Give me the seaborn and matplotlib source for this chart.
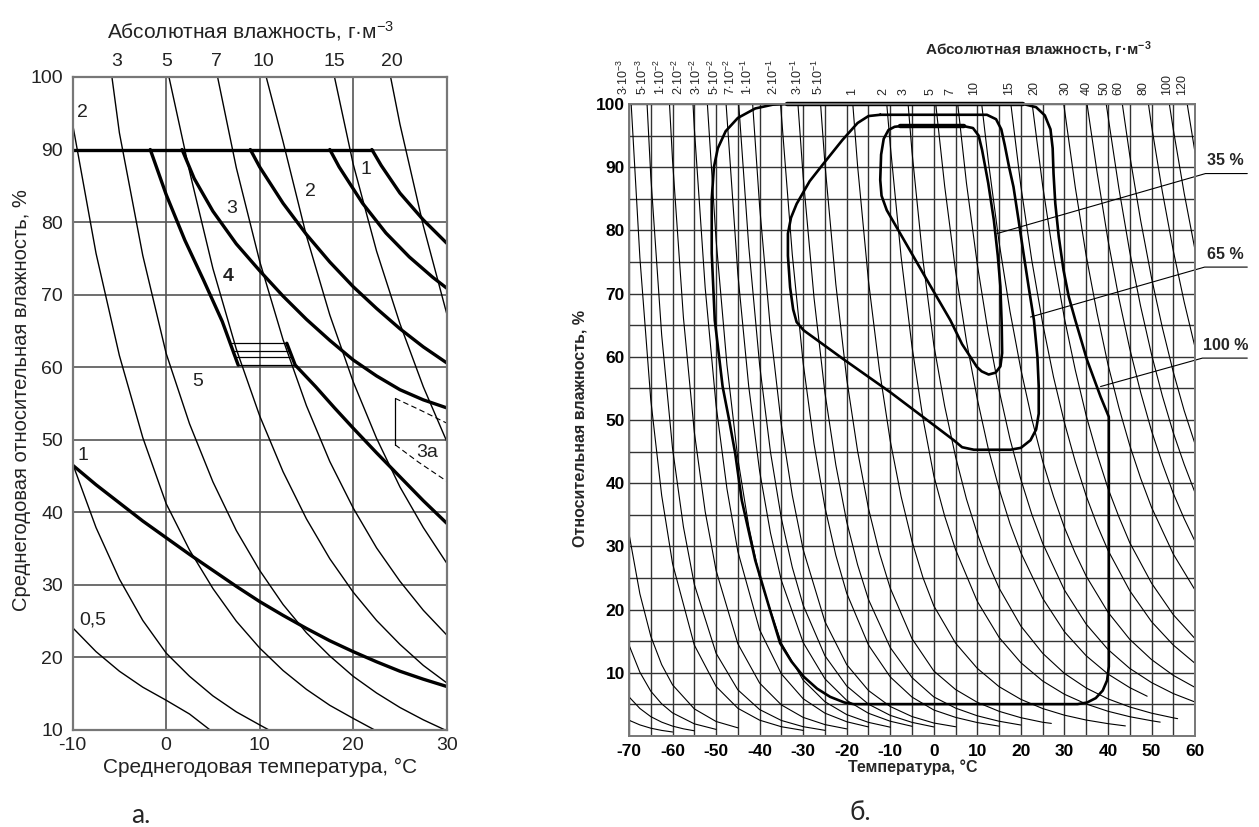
import matplotlib
matplotlib.use("Agg")
import matplotlib.pyplot as plt
import matplotlib.transforms as mtransforms
import numpy as np
import pandas as pd
import seaborn as sns

# ---------------- LEFT PANEL (а.) : values ----------------
L_XTICKS = [-10, 0, 10, 20, 30]
L_YTICKS = [10, 20, 30, 40, 50, 60, 70, 80, 90, 100]
L_TOP_POS = [-5.3, 0.1, 5.4, 10.4, 18.0, 24.1]
L_TOP_LAB = ["3", "5", "7", "10", "15", "20"]

# thin isolines of absolute humidity (T, RH)
la_05 = [(-10, 24.1), (-7.5, 20.8), (-5, 18.1), (-2.5, 15.9), (0, 14.1), (2.5, 12.2), (4.7, 10.0)]
la_1 = [(-10, 46.7), (-7.5, 37.9), (-5, 30.8), (-2.5, 25.1), (0, 20.6), (2.5, 17.4), (5, 14.7),
        (7.5, 12.5), (10, 10.7), (11, 10.0)]
la_2 = [(-10, 93.5), (-7.5, 75.7), (-5, 61.6), (-2.5, 50.3), (0, 41.2), (2.5, 34.8), (5, 29.5),
        (7.5, 25.0), (10, 21.3), (12.5, 18.2), (15, 15.6), (17.5, 13.4), (20, 11.6), (22.3, 10.0)]
la_3 = [(-5.8, 100), (-5, 92.3), (-2.5, 75.4), (0, 61.9), (2.5, 52.2), (5, 44.2), (7.5, 37.5),
        (10, 32.0), (12.5, 27.3), (15, 23.4), (17.5, 20.2), (20, 17.4), (22.5, 15.1), (25, 13.1),
        (27.5, 11.4), (30, 9.9)]
la_5 = [(0.3, 100), (2.5, 87.0), (5, 73.6), (7.5, 62.5), (10, 53.3), (12.5, 45.6), (15, 39.1),
        (17.5, 33.6), (20, 29.0), (22.5, 25.1), (25, 21.8), (27.5, 18.9), (30, 16.5)]
la_7 = [(5.5, 100), (7.5, 87.5), (10, 74.6), (12.5, 63.8), (15, 54.7), (17.5, 47.0), (20, 40.6),
        (22.5, 35.1), (25, 30.5), (27.5, 26.5), (30, 23.1)]
la_10 = [(10.7, 100), (12.5, 91.1), (15, 78.1), (17.5, 67.2), (20, 58.0), (22.5, 50.2), (25, 43.5),
         (27.5, 37.9), (30, 33.0)]
la_15 = [(18.0, 100), (20, 88.0), (22.5, 76.0), (25, 66.0), (27.5, 57.3), (30, 49.8)]
la_20 = [(24.0, 100), (25, 93.5), (27.5, 79.5), (30, 67.4)]

# thick zone boundaries
lk_top = [(-10, 90), (22, 90)]
lk_4 = [(-1.7, 90), (0, 83.8), (2, 77.5), (4, 72.0), (6, 66.3), (7.7, 60.3)]
lk_4b = [(12.9, 63.3), (13.8, 60.3), (16, 57.3), (18, 54.4), (20, 51.6), (22.5, 48.2), (25, 44.9),
         (27.5, 41.6), (30, 38.5)]
lk_3 = [(1.7, 90), (3, 86.0), (5, 81.5), (7.5, 77.0), (10, 73.3), (12.5, 69.8), (15, 66.6),
        (17.5, 63.7), (20, 61.0), (22.5, 58.8), (25, 56.9), (27.5, 55.5), (30, 54.4)]
lk_2 = [(9.0, 90), (10, 87.6), (12.5, 82.6), (15, 78.3), (17.5, 74.5), (20, 71.1), (22.5, 68.1),
        (25, 65.3), (27.5, 62.8), (30, 60.6)]
lk_1 = [(17.5, 90), (18.5, 87.6), (21, 82.6), (23.5, 78.5), (26, 75.2), (28.5, 72.4), (30, 70.9)]
lk_0 = [(22, 90), (23, 87.8), (25, 84.0), (27.5, 80.3), (30, 77.1)]
lk_low = [(-10, 46.5), (-7.5, 43.8), (-5, 41.3), (-2.5, 38.8), (0, 36.5), (2.5, 34.2), (5, 32.0),
          (7.5, 29.8), (10, 27.7), (12.5, 25.8), (15, 24.0), (17.5, 22.3), (20, 20.8), (22.5, 19.4),
          (25, 18.1), (27.5, 17.0), (30, 16.0)]
# hatched box and zone 3а
lb_1 = [(7.0, 63.3), (12.9, 63.3)]
lb_2 = [(7.3, 62.2), (13.2, 62.2)]
lb_3 = [(7.5, 61.4), (13.5, 61.4)]
lb_4 = [(7.7, 60.3), (13.8, 60.3)]
l3a_v = [(24.5, 55.7), (24.5, 49.3)]
l3a_d1 = [(24.5, 55.7), (27, 54.2), (30, 52.3)]
l3a_d2 = [(24.5, 49.3), (27, 46.9), (30, 44.3)]
# in-plot labels (text, T, RH, bold)
L_NOTES = [("2", -8.9, 95.1, False), ("1", 21.4, 87.2, False), ("2", 15.4, 84.2, False),
           ("3", 7.0, 81.9, False), ("4", 6.6, 72.5, True), ("5", 3.4, 58.0, False),
           ("1", -8.9, 47.9, False), ("0,5", -7.9, 25.2, False), ("3а", 27.9, 48.2, False)]

# ---------------- RIGHT PANEL (б.) ----------------
R_XTICKS = [-70, -60, -50, -40, -30, -20, -10, 0, 10, 20, 30, 40, 50, 60]
R_XMINOR = [-65, -55, -45, -35, -25, -15, -5, 5, 15, 25, 35, 45, 55]
R_YTICKS = [10, 20, 30, 40, 50, 60, 70, 80, 90, 100]
R_YMINOR = [5, 15, 25, 35, 45, 55, 65, 75, 85, 95]
R_TOP_POS = [-71.3, -66.9, -62.9, -58.7, -54.5, -50.5, -46.7, -42.7, -36.8, -31.4, -26.5, -18.8,
             -11.5, -6.9, -0.8, 3.8, 9.2, 17.2, 23.0, 30.2, 35.2, 39.3, 42.3, 48.2, 53.6, 57.0]
R_TOP_LAB = [r"$3{\cdot}10^{-3}$", r"$5{\cdot}10^{-3}$", r"$1{\cdot}10^{-2}$", r"$2{\cdot}10^{-2}$",
             r"$3{\cdot}10^{-2}$", r"$5{\cdot}10^{-2}$", r"$7{\cdot}10^{-2}$", r"$1{\cdot}10^{-1}$",
             r"$2{\cdot}10^{-1}$", r"$3{\cdot}10^{-1}$", r"$5{\cdot}10^{-1}$", "1", "2", "3", "5", "7",
             "10", "15", "20", "30", "40", "50", "60", "80", "100", "120"]

ri_x1 = [(-70, 32.0), (-67.5, 22.5), (-65, 15.8), (-62.5, 11.3), (-60, 8.1), (-55, 4.3), (-50, 2.3), (-45, 1.3)]
ri_x2 = [(-70, 14.4), (-67.5, 10.1), (-65, 7.1), (-62.5, 5.1), (-60, 3.66), (-55, 1.93), (-50, 1.05)]
ri_x3 = [(-70, 6.2), (-67.5, 4.36), (-65, 3.07), (-62.5, 2.2), (-60, 1.57), (-57.5, 1.14), (-55, 0.83)]
ri_x4 = [(-70, 2.5), (-67.5, 1.76), (-65, 1.24), (-62.5, 0.89), (-60, 0.64)]
ri_3e3 = [(-69.5, 100), (-67.5, 75.7), (-65, 53.2), (-62.5, 38.1), (-60, 27.3), (-55, 14.4), (-50, 7.85),
          (-45, 4.39), (-40, 2.51), (-35, 1.47), (-30, 0.89)]
ri_5e3 = [(-65.85, 100), (-65, 88.6), (-62.5, 63.5), (-60, 45.5), (-57.5, 33.1), (-55, 24.0), (-50, 13.1),
          (-45, 7.31), (-40, 4.19), (-35, 2.46), (-30, 1.48), (-25, 0.9)]
ri_1e2 = [(-60.7, 100), (-60, 91.1), (-57.5, 66.2), (-55, 48.1), (-52.5, 35.5), (-50, 26.2), (-45, 14.6),
          (-40, 8.38), (-35, 4.92), (-30, 2.95), (-25, 1.81), (-20, 1.13)]
ri_2e2 = [(-55.3, 100), (-55, 96.2), (-52.5, 70.9), (-50, 52.3), (-47.5, 39.1), (-45, 29.2), (-40, 16.8),
          (-35, 9.83), (-30, 5.90), (-25, 3.62), (-20, 2.26), (-15, 1.44)]
ri_3e2 = [(-52, 100), (-50, 78.5), (-47.5, 58.7), (-45, 43.9), (-42.5, 33.2), (-40, 25.1), (-35, 14.7),
          (-30, 8.85), (-25, 5.43), (-20, 3.39), (-15, 2.16), (-10, 1.40)]
ri_5e2 = [(-47.7, 100), (-45, 73.1), (-42.5, 55.3), (-40, 41.9), (-37.5, 32.1), (-35, 24.6), (-30, 14.8),
          (-25, 9.05), (-20, 5.65), (-15, 3.60), (-10, 2.34), (-5, 1.54)]
ri_7e2 = [(-44.8, 100), (-42.5, 77.5), (-40, 58.7), (-37.5, 44.9), (-35, 34.4), (-32.5, 26.7), (-30, 20.7),
          (-25, 12.7), (-20, 7.92), (-15, 5.04), (-10, 3.27), (-5, 2.16), (0, 1.44)]
ri_1e1 = [(-41.6, 100), (-40, 83.8), (-37.5, 64.2), (-35, 49.2), (-32.5, 38.1), (-30, 29.5), (-25, 18.1),
          (-20, 11.3), (-15, 7.20), (-10, 4.67), (-5, 3.08), (0, 2.06), (5, 1.47)]
ri_2e1 = [(-35.2, 100), (-32.5, 76.2), (-30, 59.0), (-27.5, 46.2), (-25, 36.2), (-22.5, 28.6), (-20, 22.6),
          (-15, 14.4), (-10, 9.35), (-5, 6.16), (0, 4.12), (5, 2.95), (10, 2.13), (15, 1.56)]
ri_3e1 = [(-31.2, 100), (-30, 88.5), (-27.5, 69.3), (-25, 54.3), (-22.5, 42.9), (-20, 33.9), (-17.5, 27.1),
          (-15, 21.6), (-10, 14.0), (-5, 9.24), (0, 6.19), (5, 4.42), (10, 3.20), (15, 2.34), (20, 1.74)]
ri_5e1 = [(-26, 100), (-25, 90.5), (-22.5, 71.5), (-20, 56.5), (-17.5, 45.1), (-15, 36.0), (-12.5, 29.0),
          (-10, 23.4), (-5, 15.4), (0, 10.3), (5, 7.36), (10, 5.33), (15, 3.91), (20, 2.90), (25, 2.18),
          (27, 2.0)]
ri_1 = [(-18.6, 100), (-17.5, 90.2), (-15, 72.0), (-12.5, 58.0), (-10, 46.7), (-7.5, 37.9), (-5, 30.8),
        (-2.5, 25.1), (0, 20.6), (5, 14.7), (10, 10.7), (15, 7.81), (20, 5.80), (25, 4.35), (30, 3.30),
        (35, 2.53), (40, 1.96), (44, 1.6)]
ri_2 = [(-10.8, 100), (-10, 93.5), (-7.5, 75.8), (-5, 61.6), (-2.5, 50.3), (0, 41.2), (2.5, 34.8),
        (5, 29.5), (10, 21.3), (15, 15.6), (20, 11.6), (25, 8.71), (30, 6.61), (35, 5.07), (40, 3.92),
        (45, 3.06), (50, 2.42), (52, 2.2)]
ri_3 = [(-5.9, 100), (-5, 92.4), (-2.5, 75.4), (0, 61.9), (2.5, 52.2), (5, 44.2), (7.5, 37.5), (10, 32.0),
        (12.5, 27.3), (15, 23.4), (20, 17.4), (25, 13.1), (30, 9.91), (35, 7.60), (40, 5.88), (45, 4.60),
        (50, 3.62), (55, 2.88), (56, 2.75)]
ri_5 = [(0.45, 100), (2.5, 87.0), (5, 73.6), (7.5, 62.5), (10, 53.3), (12.5, 45.5), (15, 39.1),
        (17.5, 33.6), (20, 29.0), (25, 21.8), (30, 16.5), (35, 12.7), (40, 9.81), (45, 7.66), (49, 6.3)]
ri_7 = [(5.5, 100), (7.5, 87.5), (10, 74.6), (12.5, 63.8), (15, 54.7), (17.5, 47.0), (20, 40.6),
        (22.5, 35.1), (25, 30.5), (30, 23.1), (35, 17.7), (40, 13.7), (45, 10.7), (50, 8.46), (55, 6.72),
        (60, 5.38)]
ri_10 = [(11, 100), (12.5, 91.1), (15, 78.1), (17.5, 67.2), (20, 58.0), (22.5, 50.2), (25, 43.5),
         (27.5, 37.9), (30, 33.0), (32.5, 28.9), (35, 25.3), (40, 19.6), (45, 15.3), (50, 12.1),
         (55, 9.60), (60, 7.69)]
ri_15 = [(17.7, 100), (20, 87.0), (22.5, 75.3), (25, 65.3), (27.5, 56.8), (30, 49.6), (32.5, 43.4),
         (35, 38.0), (37.5, 33.4), (40, 29.4), (45, 23.0), (50, 18.1), (55, 14.4), (60, 11.5)]
ri_20 = [(22.6, 100), (25, 87.1), (27.5, 75.8), (30, 66.1), (32.5, 57.9), (35, 50.7), (37.5, 44.6),
         (40, 39.2), (42.5, 34.7), (45, 30.6), (50, 24.2), (55, 19.2), (60, 15.4)]
ri_30 = [(29.85, 100), (32.5, 86.8), (35, 76.0), (37.5, 66.9), (40, 58.8), (42.5, 52.0), (45, 46.0),
         (47.5, 40.8), (50, 36.2), (55, 28.8), (60, 23.1)]
ri_40 = [(35.2, 100), (37.5, 89.2), (40, 78.5), (42.5, 69.3), (45, 61.3), (47.5, 54.4), (50, 48.3),
         (52.5, 43.1), (55, 38.4), (57.5, 34.4), (60, 30.8)]
ri_50 = [(39.6, 100), (42.5, 86.7), (45, 76.6), (47.5, 68.0), (50, 60.4), (52.5, 53.8), (55, 48.0),
         (57.5, 43.0), (60, 38.5)]
ri_60 = [(43.3, 100), (45, 91.9), (47.5, 81.6), (50, 72.5), (52.5, 64.6), (55, 57.6), (57.5, 51.5), (60, 46.2)]
ri_80 = [(49.3, 100), (50, 96.6), (52.5, 86.1), (55, 76.8), (57.5, 68.7), (60, 61.5)]
ri_100 = [(54.1, 100), (55, 96.0), (57.5, 85.9), (60, 76.9)]
ri_120 = [(58.2, 100), (60, 92.3)]

# test envelopes (thick contours)
rc_outer = [(-33.7, 100), (20.6, 100), (23.5, 99.5), (25.5, 98.2), (26.8, 96), (27.3, 93), (27.5, 89),
            (27.9, 84.3), (28.7, 79), (29.8, 73.7), (31, 69.5), (32.5, 65.8), (35.2, 59.5), (38.3, 53.7),
            (40.2, 50.5), (40.2, 11), (39.8, 8.8), (38.8, 7.2), (37.2, 6), (35.2, 5.3), (33, 5.05),
            (-18.4, 5.05), (-20.5, 5.3), (-23.8, 6.2), (-26.8, 7.5), (-29.9, 9.4), (-32.7, 11.8),
            (-35.3, 14.7), (-37.6, 19.9), (-41, 27.8), (-44.1, 37.3), (-45.6, 44.7), (-47, 50),
            (-48.5, 55.3), (-50.3, 65.8), (-51, 76.4), (-51, 85), (-50.5, 90), (-49.6, 93), (-47.8, 95.7),
            (-45, 97.8), (-41, 99.3), (-37, 99.9), (-33.7, 100)]
rc_middle = [(-12.3, 98.3), (12.2, 98.3), (14.3, 97.6), (15.5, 96), (16.3, 93.5), (17.3, 90), (18.3, 86.9),
             (19.5, 81.5), (20.6, 76.4), (21.8, 71), (23, 65.8), (23.8, 60), (24.1, 55.3), (24.1, 51),
             (23.5, 48.5), (22.2, 46.8), (20, 45.6), (17.6, 45.3), (9.2, 45.3), (6.5, 45.7), (4.6, 46.8),
             (0, 49.2), (-10, 54.4), (-20.7, 59.6), (-29.9, 64.2), (-31.5, 65.5), (-32.3, 67.5), (-33, 71),
             (-33.5, 76), (-33.5, 79.5), (-32.8, 82), (-31.5, 84.2), (-28.5, 87.8), (-25.3, 90.6),
             (-21, 94.3), (-17.5, 97), (-15, 98.1), (-12.3, 98.3)]
rc_inner = [(-7.7, 96.5), (6.9, 96.5), (9.0, 96.2), (10.3, 95), (11.1, 92.7), (12.5, 87.5), (13.8, 81.6),
            (14.7, 76), (15.3, 71.1), (15.6, 65), (15.7, 60.6), (15.3, 58.5), (14.2, 57.5), (12.6, 57.2),
            (11, 57.7), (9.9, 58.4), (6.5, 62), (3.8, 65.8), (-1.6, 72.2), (-7.7, 79.5), (-10.8, 83.2),
            (-12, 85.5), (-12.3, 88), (-12.1, 92), (-11.5, 94.5), (-10.4, 95.9), (-9, 96.4), (-7.7, 96.5)]
rc_top_outer = [(-33.7, 100), (20.6, 100)]
rc_top_inner = [(-7.7, 96.5), (6.9, 96.5)]
# leader lines and labels
rl_35 = [(14.5, 79.5), (62.4, 89.0), (72.0, 89.0)]
rl_65 = [(22.2, 66.3), (62.2, 74.2), (72.0, 74.2)]
rl_100 = [(38.3, 55.3), (61.7, 59.8), (72.0, 59.8)]
R_NOTES = [("35 %", 67.0, 89.8), ("65 %", 67.0, 75.0), ("100 %", 67.0, 60.6)]

# ---------------- drawing ----------------
sns.set_theme(style="white")
plt.rcParams["font.family"] = ["Liberation Sans", "DejaVu Sans"]
plt.rcParams["axes.unicode_minus"] = False
plt.rcParams["mathtext.fontset"] = "custom"
plt.rcParams["mathtext.rm"] = "Liberation Sans"
plt.rcParams["mathtext.it"] = "Liberation Sans:italic"
plt.rcParams["mathtext.bf"] = "Liberation Sans:bold"


def frame(curves):
    rows = []
    for cid, pts in enumerate(curves):
        for k, (t, rh) in enumerate(pts):
            rows.append((cid, k, t, rh))
    return pd.DataFrame(rows, columns=["cid", "k", "T", "RH"])


def draw(ax, curves, lw, **kw):
    sns.lineplot(data=frame(curves), x="T", y="RH", units="cid", estimator=None, sort=False,
                 color=kw.pop("color", "black"), linewidth=lw, ax=ax, legend=False, **kw)


fig = plt.figure(figsize=(12.59, 8.27), dpi=100)
axL = fig.add_axes([0.0577, 0.1173, 0.2971, 0.7896])
axR = fig.add_axes([0.4996, 0.1100, 0.4496, 0.7642])

# ----- left
draw(axL, [la_05, la_1, la_2, la_3, la_5, la_7, la_10, la_15, la_20], 1.0)
draw(axL, [lb_1, lb_2, lb_3, lb_4, l3a_v], 0.9)
draw(axL, [l3a_d1, l3a_d2], 0.8, linestyle=(0, (5, 3)))
draw(axL, [lk_top, lk_4, lk_4b, lk_3, lk_2, lk_1, lk_0, lk_low], 2.4)
axL.set_xlim(-10, 30)
axL.set_ylim(10, 100)
axL.set_xticks(L_XTICKS)
axL.set_yticks(L_YTICKS)
axL.grid(True, color="#555555", linewidth=1.2)
axL.set_axisbelow(True)
axL.tick_params(length=0, labelsize=14, labelcolor="#222222", pad=5)
axL.tick_params(axis="y", pad=7)
for s in axL.spines.values():
    s.set_color("#777777")
    s.set_linewidth(1.6)
axL.set_xlabel("")
axL.set_ylabel("")
axL.text(0.50, -0.058, "Среднегодовая температура, °С", transform=axL.transAxes, ha="center",
         va="center", fontsize=15, color="#222222")
axL.text(-0.136, 0.505, "Среднегодовая относительная влажность, %", transform=axL.transAxes,
         ha="center", va="center", rotation=90, fontsize=14.5, color="#222222")
axL.text(0.477, 1.0704, "Абсолютная влажность, г·м$^{-3}$", transform=axL.transAxes, ha="center",
         va="center", fontsize=15, color="#222222")
trL = mtransforms.blended_transform_factory(axL.transData, axL.transAxes)
for p, lab in zip(L_TOP_POS, L_TOP_LAB):
    axL.text(p, 1.023, lab, transform=trL, ha="center", va="center", fontsize=14, color="#222222")
for lab, t, rh, b in L_NOTES:
    axL.text(t, rh, lab, ha="center", va="center", fontsize=14, color="#222222",
             fontweight="bold" if b else "normal")

# ----- right
draw(axR, [ri_x1, ri_x2, ri_x3, ri_x4, ri_3e3, ri_5e3, ri_1e2, ri_2e2, ri_3e2, ri_5e2, ri_7e2, ri_1e1,
           ri_2e1, ri_3e1, ri_5e1, ri_1, ri_2, ri_3, ri_5, ri_7, ri_10, ri_15, ri_20, ri_30, ri_40,
           ri_50, ri_60, ri_80, ri_100, ri_120], 0.8)
draw(axR, [rc_outer, rc_middle, rc_inner], 1.9)
draw(axR, [rc_top_outer, rc_top_inner], 3.2, clip_on=False)
draw(axR, [rl_35, rl_65, rl_100], 0.8, clip_on=False)
axR.set_xlim(-70, 60)
axR.set_ylim(0, 100)
axR.set_xticks(R_XTICKS)
axR.set_xticks(R_XMINOR, minor=True)
axR.set_yticks(R_YTICKS)
axR.set_yticks(R_YMINOR, minor=True)
axR.grid(True, which="both", color="#333333", linewidth=1.0)
axR.set_axisbelow(True)
axR.tick_params(which="both", length=0, labelsize=12.5, labelcolor="black")
axR.tick_params(axis="x", pad=6)
axR.tick_params(axis="y", pad=3)
for lab in axR.get_xticklabels() + axR.get_yticklabels():
    lab.set_fontweight("bold")
for s in axR.spines.values():
    s.set_color("#777777")
    s.set_linewidth(1.4)
axR.set_xlabel("")
axR.set_ylabel("")
axR.text(0.502, -0.049, "Температура, °С", transform=axR.transAxes, ha="center", va="center",
         fontsize=11.5, fontweight="bold")
axR.text(-0.087, 0.486, "Относительная влажность, %", transform=axR.transAxes, ha="center",
         va="center", rotation=90, fontsize=11.5, fontweight="bold")
axR.text(0.7226, 1.0854, r"Абсолютная влажность, г·м$^{\mathbf{-3}}$", transform=axR.transAxes,
         ha="center", va="center", fontsize=11, fontweight="bold")
trR = mtransforms.blended_transform_factory(axR.transData, axR.transAxes)
for p, lab in zip(R_TOP_POS, R_TOP_LAB):
    axR.text(p, 1.0142, lab, transform=trR, ha="center", va="bottom", rotation=90, fontsize=9)
for lab, t, rh in R_NOTES:
    axR.text(t, rh, lab, ha="center", va="bottom", fontsize=11.5, fontweight="bold", clip_on=False)

fig.text(0.112, 0.0145, "а.", ha="center", va="center", fontsize=19, family=["Lato", "DejaVu Sans"])
fig.text(0.683, 0.017, "б.", ha="center", va="center", fontsize=19, family=["Lato", "DejaVu Sans"])

fig.savefig("out.png", dpi=100)
